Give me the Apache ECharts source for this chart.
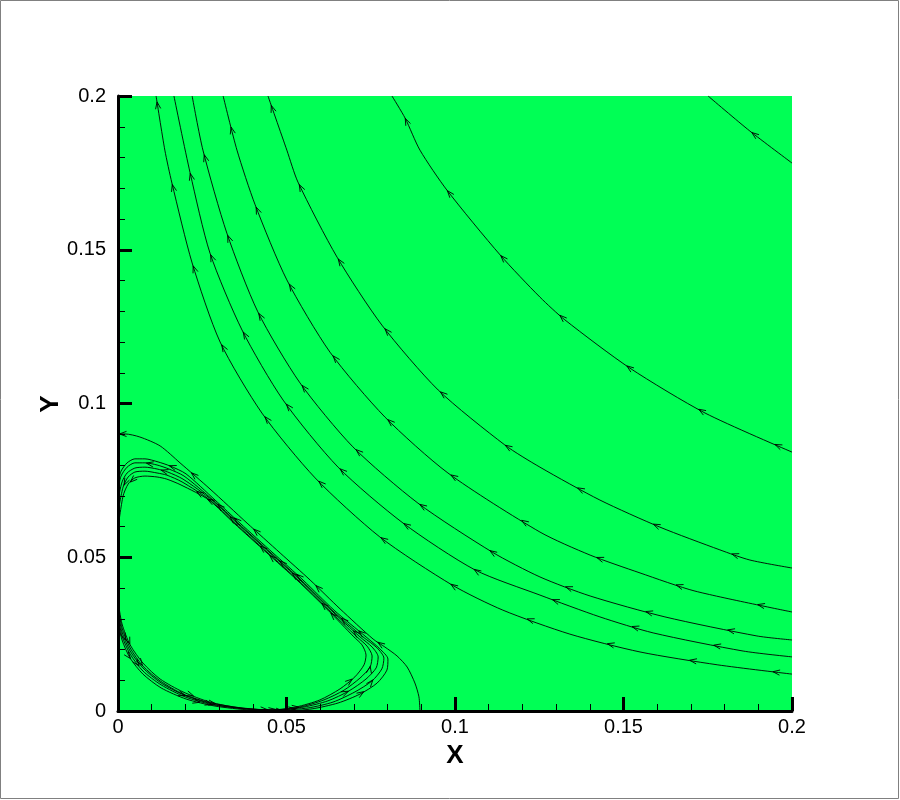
<!DOCTYPE html>
<html><head><meta charset="utf-8">
<script src="https://cdn.jsdelivr.net/npm/echarts@6/dist/echarts.min.js"></script>
<style>html,body{margin:0;padding:0;background:#fff}#chart{width:900px;height:800px}</style>
</head><body><div id="chart"></div>
<script>
// ---- tick labels / axis titles ----
const xTickLabels = ['0', '0.05', '0.1', '0.15', '0.2'];
const yTickLabels = ['0', '0.05', '0.1', '0.15', '0.2'];
const xTitle = 'X';
const yTitle = 'Y';

// ---- streamlines (ordered in flow direction) ----
const lineA = [[0.2,0.1782],[0.1875,0.1886],[0.1751,0.2]];
const lineB = [[0.2,0.0842],[0.1742,0.0969],[0.1519,0.1115],[0.1326,0.1272],[0.1252,0.1346],[0.1134,0.1483],[0.0976,0.1694],[0.0896,0.1824],[0.0852,0.1928],[0.0813,0.2]];
const lineC = [[0.2,0.0465],[0.1875,0.0491],[0.1786,0.0524],[0.1608,0.0598],[0.1430,0.0686],[0.1252,0.0793],[0.1148,0.0865],[0.0950,0.1044],[0.0783,0.1255],[0.0650,0.1476],[0.0534,0.1720],[0.0501,0.1824],[0.0445,0.2]];
const lineD = [[0.2,0.0322],[0.1712,0.0390],[0.1549,0.0449],[0.1401,0.0507],[0.1252,0.0582],[0.0979,0.0774],[0.0792,0.0956],[0.0629,0.1167],[0.0501,0.1402],[0.0407,0.1646],[0.0353,0.1824],[0.0312,0.2]];
const lineE = [[0.2,0.0231],[0.1896,0.0244],[0.1623,0.0306],[0.1401,0.0374],[0.1252,0.0436],[0.1110,0.0517],[0.0890,0.0676],[0.0697,0.0859],[0.0540,0.1067],[0.0415,0.1298],[0.0323,0.1554],[0.0252,0.1824],[0.0220,0.2]];
const lineF = [[0.2,0.0176],[0.1855,0.0195],[0.1588,0.0254],[0.1430,0.0306],[0.1252,0.0377],[0.1059,0.0459],[0.0846,0.0611],[0.0653,0.0793],[0.0490,0.1011],[0.0368,0.1239],[0.0273,0.1489],[0.0214,0.1750],[0.0166,0.2]];
const lineG = [[0.2,0.0120],[0.1780,0.0150],[0.1549,0.0192],[0.1341,0.0250],[0.1142,0.0328],[0.0991,0.0410],[0.0777,0.0566],[0.0585,0.0758],[0.0427,0.0969],[0.0303,0.1200],[0.0220,0.1457],[0.0160,0.1717],[0.0139,0.1824],[0.0113,0.2]];
const separatrix = [[0.0896,0],[0.0893,0.0046],[0.0881,0.0091],[0.0858,0.0143],[0.0828,0.0179],[0.0792,0.0208],[0.0757,0.0234],[0.0659,0.0332],[0.0570,0.0426],[0.0481,0.0514],[0.0383,0.0611],[0.0273,0.0722],[0.0184,0.0807],[0.0125,0.0862],[0.0065,0.0891],[0.0021,0.0901],[0,0.0901]];
const bubble1 = [[0,0.0293],[0.0012,0.0231],[0.0036,0.0172],[0.0074,0.0120],[0.0128,0.0075],[0.0202,0.0039],[0.0288,0.0016],[0.0392,0.0003],[0.0496,0],[0.0576,0.0007],[0.0653,0.0026],[0.0718,0.0055],[0.0769,0.0091],[0.0798,0.0133],[0.0801,0.0169],[0.0777,0.0202],[0.0736,0.0241],[0.0641,0.0328],[0.0549,0.0426],[0.0460,0.0514],[0.0362,0.0611],[0.0288,0.0686],[0.0202,0.0771],[0.0154,0.0797],[0.0119,0.0810],[0.0080,0.0820],[0.0050,0.0820],[0.0027,0.0807],[0.0009,0.0780],[0,0.0745]];
const bubble2 = [[0,0.0309],[0.0012,0.0244],[0.0036,0.0185],[0.0074,0.0130],[0.0128,0.0085],[0.0199,0.0046],[0.0282,0.0020],[0.0383,0.0007],[0.0481,0.0003],[0.0564,0.0010],[0.0638,0.0029],[0.0703,0.0062],[0.0754,0.0098],[0.0783,0.0137],[0.0789,0.0172],[0.0769,0.0205],[0.0727,0.0241],[0.0635,0.0328],[0.0543,0.0426],[0.0454,0.0514],[0.0356,0.0611],[0.0282,0.0686],[0.0196,0.0764],[0.0151,0.0787],[0.0116,0.0800],[0.0080,0.0807],[0.0050,0.0807],[0.0027,0.0793],[0.0009,0.0764],[0,0.0719]];
const bubble3 = [[0,0.0325],[0.0012,0.0257],[0.0036,0.0195],[0.0074,0.0140],[0.0128,0.0091],[0.0196,0.0052],[0.0279,0.0023],[0.0374,0.0007],[0.0472,0.0003],[0.0552,0.0013],[0.0623,0.0033],[0.0685,0.0065],[0.0736,0.0104],[0.0766,0.0140],[0.0772,0.0176],[0.0754,0.0208],[0.0718,0.0241],[0.0632,0.0328],[0.0540,0.0426],[0.0451,0.0514],[0.0353,0.0611],[0.0279,0.0686],[0.0193,0.0754],[0.0148,0.0777],[0.0116,0.0787],[0.0080,0.0793],[0.0050,0.0790],[0.0027,0.0774],[0.0012,0.0745],[0,0.0686]];
const bubble4 = [[0,0.0341],[0.0012,0.0270],[0.0036,0.0205],[0.0074,0.0146],[0.0125,0.0098],[0.0193,0.0055],[0.0276,0.0026],[0.0368,0.0010],[0.0460,0.0003],[0.0540,0.0013],[0.0611,0.0036],[0.0671,0.0068],[0.0718,0.0107],[0.0748,0.0143],[0.0754,0.0179],[0.0739,0.0211],[0.0709,0.0241],[0.0626,0.0328],[0.0534,0.0426],[0.0445,0.0514],[0.0347,0.0611],[0.0273,0.0686],[0.0190,0.0745],[0.0145,0.0767],[0.0116,0.0774],[0.0080,0.0780],[0.0050,0.0777],[0.0030,0.0761],[0.0015,0.0728],[0,0.0647]];
const bubble5 = [[0,0.0358],[0.0012,0.0283],[0.0036,0.0215],[0.0074,0.0156],[0.0125,0.0104],[0.0193,0.0062],[0.0273,0.0029],[0.0362,0.0010],[0.0451,0.0003],[0.0528,0.0013],[0.0599,0.0036],[0.0659,0.0072],[0.0703,0.0111],[0.0730,0.0150],[0.0736,0.0182],[0.0724,0.0215],[0.0700,0.0241],[0.0623,0.0328],[0.0531,0.0426],[0.0442,0.0514],[0.0344,0.0611],[0.0270,0.0686],[0.0187,0.0735],[0.0145,0.0754],[0.0116,0.0761],[0.0080,0.0764],[0.0050,0.0758],[0.0030,0.0738],[0.0015,0.0699],[0,0.0595]];

const streamlines = [lineA, lineB, lineC, lineD, lineE, lineF, lineG, separatrix, bubble1, bubble2, bubble3, bubble4, bubble5];
// arrow placement (pixels of arc length) and which end it is measured from
const arrowOffset = [57, 26, 10, 32, 60, 79, 6, 85, 40, 55, 30, 65, 45];
const arrowFrom = ['end','end','end','end','end','end','end','start','start','start','start','start','start'];
const ARROW_STEP = 84;

const chart = echarts.init(document.getElementById('chart'), null, {renderer: 'canvas'});

function fmt(labels) {
  return function (v) { return labels[Math.round(v / 0.05)]; };
}

function renderArrows(params, api) {
  const pts = streamlines[params.dataIndex].map(p => api.coord(p));
  const cum = [0];
  for (let i = 1; i < pts.length; i++) {
    cum.push(cum[i - 1] + Math.hypot(pts[i][0] - pts[i - 1][0], pts[i][1] - pts[i - 1][1]));
  }
  const total = cum[cum.length - 1];
  const off = arrowOffset[params.dataIndex];
  const positions = [];
  if (arrowFrom[params.dataIndex] === 'end') {
    for (let s = total - off; s >= 0; s -= ARROW_STEP) positions.push(s);
  } else {
    for (let s = off; s <= total; s += ARROW_STEP) positions.push(s);
  }
  const children = [];
  const L = 7, W = 2.6;
  positions.forEach(s => {
    let i = 1;
    while (i < cum.length - 1 && cum[i] < s) i++;
    const seg = cum[i] - cum[i - 1] || 1;
    const t = (s - cum[i - 1]) / seg;
    const a = pts[i - 1], b = pts[i];
    const px = a[0] + (b[0] - a[0]) * t, py = a[1] + (b[1] - a[1]) * t;
    const dx = (b[0] - a[0]) / seg, dy = (b[1] - a[1]) / seg;
    const nx = -dy, ny = dx;
    children.push({
      type: 'polyline',
      shape: {points: [[px - L * dx + W * nx, py - L * dy + W * ny], [px, py], [px - L * dx - W * nx, py - L * dy - W * ny]]},
      style: {stroke: '#000', lineWidth: 0.9, fill: null}
    });
  });
  return {type: 'group', children: children};
}

const lineSeries = streamlines.map(d => ({
  type: 'line',
  data: d,
  symbol: 'none',
  smooth: 0.25,
  clip: true,
  lineStyle: {color: '#000', width: 0.9},
  silent: true,
  z: 3
}));

const titleFont = "'Liberation Sans Narrow','Liberation Sans',Arial,sans-serif";

const axisCommon = {
  type: 'value',
  min: 0, max: 0.2, interval: 0.05,
  splitNumber: 4,
  axisLine: {show: true, onZero: false, lineStyle: {color: '#000', width: 3}},
  axisTick: {show: true, inside: true, length: 14, lineStyle: {color: '#000', width: 3}},
  minorTick: {show: true, splitNumber: 5, length: 7, lineStyle: {color: '#000', width: 1}},
  splitLine: {show: false},
  minorSplitLine: {show: false},
  nameLocation: 'middle',
  nameTextStyle: {color: '#000', fontFamily: titleFont, fontWeight: 'bold', fontSize: 26}
};

chart.setOption({
  animation: false,
  backgroundColor: '#ffffff',
  graphic: [
    {type: 'rect', shape: {x: 0.5, y: 0.5, width: 898, height: 798}, style: {fill: null, stroke: '#808080', lineWidth: 1}, z: 100},
    {type: 'text', x: 51, y: 404, rotation: Math.PI / 2, style: {text: yTitle, fill: '#000', font: 'bold 26px ' + titleFont, align: 'center', verticalAlign: 'middle'}, z: 100}
  ],
  grid: {left: 118, top: 96, width: 674, height: 615, show: true, backgroundColor: '#00ff55', borderWidth: 0},
  xAxis: Object.assign({}, axisCommon, {
    name: xTitle, nameGap: 32,
    axisLabel: {color: '#000', fontFamily: "'Liberation Sans',Arial,sans-serif", fontSize: 20, margin: 6, formatter: fmt(xTickLabels), showMinLabel: true, showMaxLabel: true}
  }),
  yAxis: Object.assign({}, axisCommon, {
    axisLabel: {color: '#000', fontFamily: "'Liberation Sans',Arial,sans-serif", fontSize: 20, margin: 12, formatter: fmt(yTickLabels), showMinLabel: true, showMaxLabel: true}
  }),
  series: lineSeries.concat([{
    type: 'custom',
    renderItem: renderArrows,
    data: streamlines.map(() => [0, 0]),
    clip: true,
    silent: true,
    z: 4
  }])
});
</script></body></html>
